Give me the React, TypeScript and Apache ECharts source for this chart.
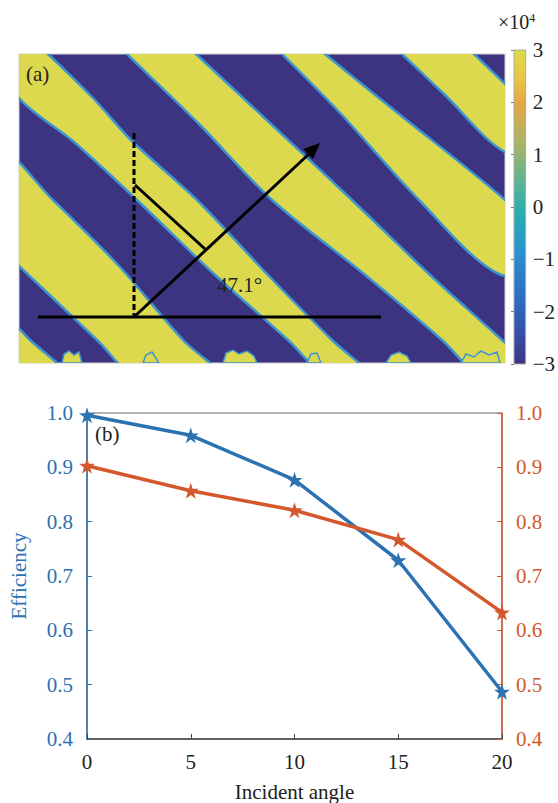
import React, { useEffect, useRef } from "react";
import * as echarts from "echarts";

// ---------- Panel (b) data ----------
const ANGLES = [0, 5, 10, 15, 20];
const EFF_BLUE = [0.996, 0.959, 0.877, 0.729, 0.487];
const EFF_ORANGE = [0.903, 0.857, 0.821, 0.767, 0.633];
const Y_TICKS_MIN = 0.4;
const Y_TICKS_MAX = 1.0;

// ---------- Panel (a) data: yellow stripe outlines in image pixels ----------
// each row: [y, xLeft, xRight]
const STRIPES: number[][][] = [
  [[-10, 372, 444], [0, 383, 455], [40, 425, 497], [100, 490, 566]],
  [[-10, 252, 296], [0, 263, 306], [60, 322, 380], [146, 400, 486], [220, 480, 560]],
  [[-10, 98, 167], [0, 108, 177], [70, 180, 252], [146, 253, 333], [220, 345, 410], [286, 423, 483], [330, 470, 530]],
  [[-40, -60, -15], [0, -20, 29], [44, 0, 74], [88, 55, 114], [146, 118, 178], [220, 195, 248], [286, 269, 313], [330, 315, 360]],
  [[80, -140, -35], [146, -70, 34], [212, 0, 100], [286, 78, 164], [330, 125, 210]],
  [[250, -120, -30], [286, -80, 11], [330, -40, 55]],
];
// ragged blobs along the lower edge of the image, [x, y] in image pixels
const BLOBS: number[][][] = [
  [[43, 309], [45, 300], [50, 297], [55, 301], [60, 298], [63, 309]],
  [[124, 309], [127, 301], [133, 298], [140, 309]],
  [[204, 309], [207, 299], [214, 296], [220, 300], [228, 297], [235, 302], [238, 309]],
  [[288, 309], [292, 300], [298, 299], [302, 309]],
  [[367, 309], [372, 301], [380, 298], [388, 302], [392, 309]],
  [[442, 309], [447, 300], [455, 303], [462, 297], [470, 301], [478, 298], [481, 309]],
];
const IMG_W = 486;
const IMG_H = 309;
const CBAR_MIN = -3;
const CBAR_MAX = 3;

const SERIF = "'Liberation Serif', 'Times New Roman', serif";
const BLUE = "#2a72b2";
const ORANGE = "#d4582b";
const YELLOW = "#dcd94f";
const DARK = "#3c3480";
const EDGE = "#3d94cf";

const STAR =
  "path://M0,-10 L2.245,-3.09 L9.51,-3.09 L3.633,1.18 L5.88,8.09 L0,3.82 L-5.88,8.09 L-3.633,1.18 L-9.51,-3.09 L-2.245,-3.09 Z";

const minusFmt = (v: number) => (v < 0 ? "\u2212" + Math.abs(v) : String(v));

export default function App() {
  const ref = useRef<HTMLDivElement>(null);
  useEffect(() => {
    if (!ref.current) return;
    const chart = echarts.init(ref.current, undefined, { renderer: "svg" });

    const cbarGradient = new echarts.graphic.LinearGradient(0, 0, 0, 1, [
      { offset: 0, color: "#dcdb4e" },
      { offset: 0.08, color: "#e9c845" },
      { offset: 0.17, color: "#e4a744" },
      { offset: 0.3, color: "#a9b468" },
      { offset: 0.42, color: "#5bb394" },
      { offset: 0.52, color: "#27aeb0" },
      { offset: 0.64, color: "#2a93d0" },
      { offset: 0.78, color: "#2d6fc4" },
      { offset: 0.9, color: "#3650a8" },
      { offset: 1, color: "#3c3482" },
    ]);

    const option: any = {
      animation: false,
      textStyle: { fontFamily: SERIF },
      grid: [
        {
          left: 19, top: 54, width: IMG_W, height: IMG_H,
          show: true, backgroundColor: DARK, borderColor: "#cfcfcf", borderWidth: 1,
        },
        { left: 514, top: 50, width: 12, height: 314, show: false },
        {
          left: 87, right: 56, top: 413, bottom: 64,
          show: true, borderColor: "#666", borderWidth: 1, backgroundColor: "transparent",
        },
      ],
      xAxis: [
        { gridIndex: 0, type: "value", min: 0, max: IMG_W, show: false },
        { gridIndex: 1, type: "value", min: 0, max: 1, show: false },
        {
          gridIndex: 2, type: "value", min: 0, max: 20, interval: 5,
          axisLine: { lineStyle: { color: "#444", width: 1.5 } },
          axisTick: { inside: true, length: 5, lineStyle: { color: "#444" } },
          splitLine: { show: false },
          axisLabel: { color: "#222", fontSize: 21, fontFamily: SERIF, margin: 12 },
          name: "Incident angle", nameLocation: "middle", nameGap: 42,
          nameTextStyle: { color: "#222", fontSize: 21, fontFamily: SERIF },
        },
      ],
      yAxis: [
        { gridIndex: 0, type: "value", min: 0, max: IMG_H, inverse: true, show: false },
        {
          gridIndex: 1, type: "value", min: CBAR_MIN, max: CBAR_MAX, interval: 1,
          position: "right",
          axisLine: { show: false },
          axisTick: { show: true, inside: true, length: 3, lineStyle: { color: "#777" } },
          splitLine: { show: false },
          axisLabel: { color: "#222", fontSize: 21, fontFamily: SERIF, margin: 7, formatter: minusFmt },
        },
        {
          gridIndex: 2, type: "value", min: Y_TICKS_MIN, max: Y_TICKS_MAX, interval: 0.1,
          position: "left",
          axisLine: { show: true, lineStyle: { color: BLUE, width: 1.5 } },
          axisTick: { inside: true, length: 5, lineStyle: { color: BLUE } },
          splitLine: { show: false },
          axisLabel: { color: BLUE, fontSize: 21, fontFamily: SERIF, margin: 14, formatter: (v: number) => v.toFixed(1) },
          name: "Efficiency", nameLocation: "middle", nameGap: 58, nameRotate: 90,
          nameTextStyle: { color: BLUE, fontSize: 21, fontFamily: SERIF },
        },
        {
          gridIndex: 2, type: "value", min: Y_TICKS_MIN, max: Y_TICKS_MAX, interval: 0.1,
          position: "right",
          axisLine: { show: true, lineStyle: { color: ORANGE, width: 1.5 } },
          axisTick: { inside: true, length: 5, lineStyle: { color: ORANGE } },
          splitLine: { show: false },
          axisLabel: { color: ORANGE, fontSize: 21, fontFamily: SERIF, margin: 14, formatter: (v: number) => v.toFixed(1) },
        },
      ],
      series: [
        {
          type: "custom",
          xAxisIndex: 0, yAxisIndex: 0,
          clip: true,
          silent: true,
          data: STRIPES.map((_, i) => [i]),
          renderItem: (params: any, api: any) => {
            const rows = STRIPES[params.dataIndex];
            const left = rows.map((r) => api.coord([r[1], r[0]]));
            const right = rows.map((r) => api.coord([r[2], r[0]])).reverse();
            return {
              type: "polygon",
              shape: { points: left.concat(right), smooth: 0.3 },
              style: { fill: YELLOW, stroke: EDGE, lineWidth: 2.5 },
            };
          },
        },
        {
          type: "custom",
          xAxisIndex: 0, yAxisIndex: 0,
          clip: true,
          silent: true,
          data: BLOBS.map((_, i) => [i]),
          renderItem: (params: any, api: any) => {
            const pts = BLOBS[params.dataIndex].map((p) => api.coord([p[0], p[1]]));
            return {
              type: "polygon",
              shape: { points: pts },
              style: { fill: YELLOW, stroke: EDGE, lineWidth: 1.5 },
            };
          },
        },
        {
          type: "custom",
          xAxisIndex: 1, yAxisIndex: 1,
          silent: true,
          data: [[0]],
          renderItem: (params: any, api: any) => {
            const p0 = api.coord([0, CBAR_MAX]);
            const p1 = api.coord([1, CBAR_MIN]);
            return {
              type: "rect",
              shape: { x: p0[0], y: p0[1], width: p1[0] - p0[0], height: p1[1] - p0[1] },
              style: { fill: cbarGradient, stroke: "#aaa", lineWidth: 1 },
            };
          },
        },
        {
          type: "line",
          xAxisIndex: 2, yAxisIndex: 2,
          data: ANGLES.map((a, i) => [a, EFF_BLUE[i]]),
          lineStyle: { color: BLUE, width: 3.5 },
          itemStyle: { color: BLUE },
          symbol: STAR, symbolSize: 16, showSymbol: true,
        },
        {
          type: "line",
          xAxisIndex: 2, yAxisIndex: 3,
          data: ANGLES.map((a, i) => [a, EFF_ORANGE[i]]),
          lineStyle: { color: ORANGE, width: 3.5 },
          itemStyle: { color: ORANGE },
          symbol: STAR, symbolSize: 16, showSymbol: true,
        },
      ],
      graphic: [
        { type: "line", shape: { x1: 38, y1: 317, x2: 381, y2: 317 }, style: { stroke: "#000", lineWidth: 3 }, z: 100 },
        { type: "line", shape: { x1: 134, y1: 133, x2: 134, y2: 317 }, style: { stroke: "#000", lineWidth: 3, lineDash: [6, 3] }, z: 100 },
        { type: "line", shape: { x1: 135, y1: 185, x2: 205, y2: 249 }, style: { stroke: "#000", lineWidth: 3 }, z: 100 },
        { type: "line", shape: { x1: 134, y1: 317, x2: 310, y2: 153 }, style: { stroke: "#000", lineWidth: 3 }, z: 100 },
        { type: "polygon", shape: { points: [[320, 143], [313, 159], [308, 154], [303, 149]] }, style: { fill: "#000" }, z: 100 },
        { type: "text", left: 217, top: 274, style: { text: "47.1°", fontSize: 21, fontFamily: SERIF, fill: "#222" }, z: 100 },
        { type: "text", left: 26, top: 63, style: { text: "(a)", fontSize: 21, fontFamily: SERIF, fill: "#222" }, z: 100 },
        { type: "text", left: 95, top: 423, style: { text: "(b)", fontSize: 21, fontFamily: SERIF, fill: "#222" }, z: 100 },
        {
          type: "text", left: 498, top: 12,
          style: {
            text: "×10{sup|4}", fontSize: 20, fontFamily: SERIF, fill: "#222",
            rich: { sup: { fontSize: 12, verticalAlign: "top", padding: [0, 0, 8, 0], fontFamily: SERIF, fill: "#222" } },
          },
          z: 100,
        },
      ],
    };
    chart.setOption(option);
    return () => chart.dispose();
  }, []);
  return (
    <div
      ref={ref}
      style={{ position: "fixed", left: 0, top: 0, width: 558, height: 803, background: "#fff" }}
    />
  );
}
